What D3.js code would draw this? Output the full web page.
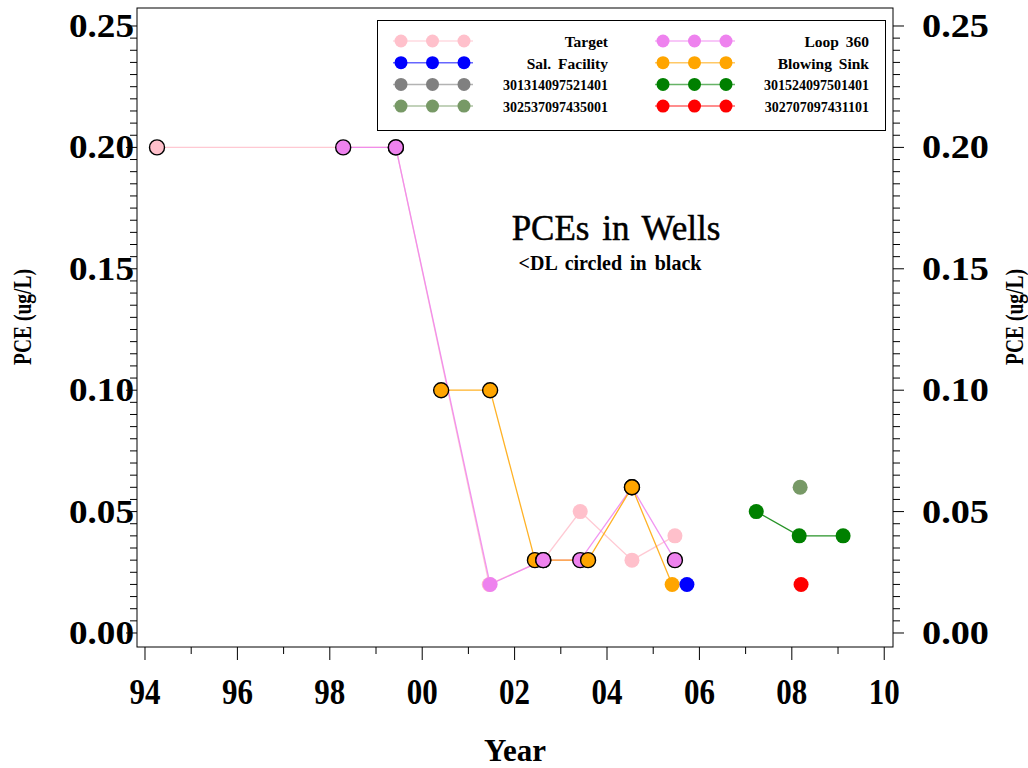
<!DOCTYPE html>
<html>
<head>
<meta charset="utf-8">
<script src="https://cdn.jsdelivr.net/npm/d3@7"></script>
<style>
  html, body { margin: 0; padding: 0; background: #fff; }
  svg { display: block; }
  text { font-family: "Liberation Serif", "Times New Roman", serif; fill: #000; }
</style>
</head>
<body>
<svg id="chart" width="1028" height="768"></svg>
<script>
// ---------- data ----------
const seriesNames = ["Target", "Sal. Facility", "301314097521401", "302537097435001",
                     "Loop 360", "Blowing Sink", "301524097501401", "302707097431101"];
const seriesColors = ["#ffc0cb", "#0000ff", "#808080", "#779966",
                      "#ee82ee", "#ffa500", "#008000", "#ff0000"];

const targetYears   = [1994.26, 1999.43, 2001.45, 2002.62, 2003.42, 2004.54, 2005.47];
const targetPCE     = [0.20, 0.20, 0.02, 0.03, 0.05, 0.03, 0.04];
const targetBelowDL = [1, 1, 0, 1, 0, 0, 0];

const salYears   = [2005.73];
const salPCE     = [0.02];
const salBelowDL = [0];

const w301314Years   = [];
const w301314PCE     = [];
const w301314BelowDL = [];

const w302537Years   = [2008.18];
const w302537PCE     = [0.06];
const w302537BelowDL = [0];

const loopYears   = [1998.29, 1999.43, 2001.47, 2002.62, 2003.42, 2004.54, 2005.47];
const loopPCE     = [0.20, 0.20, 0.02, 0.03, 0.03, 0.06, 0.03];
const loopBelowDL = [1, 1, 0, 1, 1, 1, 1];

const sinkYears   = [2000.41, 2001.47, 2002.44, 2003.59, 2004.54, 2005.41];
const sinkPCE     = [0.10, 0.10, 0.03, 0.03, 0.06, 0.02];
const sinkBelowDL = [1, 1, 1, 1, 1, 0];

const w301524Years   = [2007.23, 2008.16, 2009.11];
const w301524PCE     = [0.05, 0.04, 0.04];
const w301524BelowDL = [0, 0, 0];

const w302707Years   = [2008.20];
const w302707PCE     = [0.02];
const w302707BelowDL = [0];

const xTickValues = [1994, 1996, 1998, 2000, 2002, 2004, 2006, 2008, 2010];
const xTickLabels = ["94", "96", "98", "00", "02", "04", "06", "08", "10"];
const yTickValues = [0, 0.05, 0.10, 0.15, 0.20, 0.25];
const yTickLabels = ["0.00", "0.05", "0.10", "0.15", "0.20", "0.25"];

const titleText = "PCEs in Wells";
const subtitleText = "<DL circled in black";
const xTitle = "Year";
const yTitle = "PCE (ug/L)";

// ---------- build ----------
const seriesData = [
  [targetYears, targetPCE, targetBelowDL],
  [salYears, salPCE, salBelowDL],
  [w301314Years, w301314PCE, w301314BelowDL],
  [w302537Years, w302537PCE, w302537BelowDL],
  [loopYears, loopPCE, loopBelowDL],
  [sinkYears, sinkPCE, sinkBelowDL],
  [w301524Years, w301524PCE, w301524BelowDL],
  [w302707Years, w302707PCE, w302707BelowDL]
].map((s, i) => ({
  name: seriesNames[i], color: seriesColors[i], idx: i,
  pts: s[0].map((yr, j) => ({ x: yr, y: s[1][j], dl: s[2][j], idx: i, color: seriesColors[i] }))
}));

const svg = d3.select("#chart");
const L = 137, R = 893, T = 8, B = 647;

const x = d3.scaleLinear().domain([1993.827, 2010.19]).range([L, R]);
const y = d3.scaleLinear().domain([-0.00577, 0.25741]).range([B, T]);

svg.append("rect").attr("width", 1028).attr("height", 768).attr("fill", "#fff");

// frame
svg.append("rect").attr("x", L).attr("y", T).attr("width", R - L).attr("height", B - T)
  .attr("fill", "none").attr("stroke", "#000").attr("stroke-width", 1);

// x axis ticks
const xMinor = d3.range(1994, 2011, 1);
const xAxis = svg.append("g").attr("transform", `translate(0,${B})`);
xAxis.selectAll("line").data(xMinor).join("line")
  .attr("x1", d => x(d)).attr("x2", d => x(d))
  .attr("y1", 0).attr("y2", d => d % 2 === 0 ? 13 : 7)
  .attr("stroke", "#000").attr("stroke-width", 1);
xAxis.selectAll("text").data(xTickValues).join("text")
  .attr("x", d => x(d)).attr("y", 57)
  .attr("text-anchor", "middle")
  .attr("textLength", 31).attr("lengthAdjust", "spacingAndGlyphs")
  .style("font-size", "35px").style("font-weight", "bold")
  .text((d, i) => xTickLabels[i]);

// y ticks (both sides)
const yMinor = d3.range(0, 51).map(i => i * 0.005);
const isMajor = v => Math.abs(Math.round(v / 0.05) * 0.05 - v) < 1e-9;
const yl = svg.append("g");
yl.selectAll("line").data(yMinor).join("line")
  .attr("x1", L).attr("x2", d => L - (isMajor(d) ? 11 : 7))
  .attr("y1", d => y(d)).attr("y2", d => y(d))
  .attr("stroke", "#000").attr("stroke-width", 1);
yl.selectAll("text").data(yTickValues).join("text")
  .attr("x", 69).attr("y", d => y(d) + 11)
  .attr("text-anchor", "start")
  .attr("textLength", 65).attr("lengthAdjust", "spacingAndGlyphs")
  .style("font-size", "33px").style("font-weight", "bold")
  .text((d, i) => yTickLabels[i]);

const yr = svg.append("g");
yr.selectAll("line").data(yMinor).join("line")
  .attr("x1", R).attr("x2", d => R + (isMajor(d) ? 11 : 7))
  .attr("y1", d => y(d)).attr("y2", d => y(d))
  .attr("stroke", "#000").attr("stroke-width", 1);
yr.selectAll("text").data(yTickValues).join("text")
  .attr("x", R + 29).attr("y", d => y(d) + 11)
  .attr("text-anchor", "start")
  .attr("textLength", 67).attr("lengthAdjust", "spacingAndGlyphs")
  .style("font-size", "33px").style("font-weight", "bold")
  .text((d, i) => yTickLabels[i]);

// axis titles
svg.append("text").attr("transform", "translate(31,317) rotate(-90)")
  .attr("text-anchor", "middle")
  .attr("textLength", 96).attr("lengthAdjust", "spacingAndGlyphs")
  .style("font-size", "26px").style("font-weight", "bold")
  .text(yTitle);
svg.append("text").attr("transform", "translate(1023,317) rotate(-90)")
  .attr("text-anchor", "middle")
  .attr("textLength", 96).attr("lengthAdjust", "spacingAndGlyphs")
  .style("font-size", "26px").style("font-weight", "bold")
  .text(yTitle);
svg.append("text").attr("x", 515).attr("y", 761)
  .attr("text-anchor", "middle").style("font-size", "31px").style("font-weight", "bold")
  .text(xTitle);

// title
svg.append("text").attr("x", 616).attr("y", 240)
  .attr("text-anchor", "middle").style("font-size", "35px").style("word-spacing", "4px")
  .style("stroke", "#000").style("stroke-width", "0.5px")
  .text(titleText);
svg.append("text").attr("x", 610).attr("y", 270)
  .attr("text-anchor", "middle").style("font-size", "20px").style("font-weight", "bold")
  .style("word-spacing", "3px")
  .text(subtitleText);

// lines
const line = d3.line().x(d => x(d.x)).y(d => y(d.y));
svg.append("g").selectAll("path").data(seriesData.filter(s => s.pts.length > 1)).join("path")
  .attr("d", s => line(s.pts))
  .attr("fill", "none").attr("stroke", s => s.color)
  .attr("stroke-width", 1.3).attr("stroke-opacity", 0.85);

// markers, drawn in date order
const allPts = seriesData.flatMap(s => s.pts)
  .sort((a, b) => (a.x - b.x) || (a.idx - b.idx));
svg.append("g").selectAll("circle").data(allPts).join("circle")
  .attr("cx", d => x(d.x)).attr("cy", d => y(d.y)).attr("r", 7.5)
  .attr("fill", d => d.color)
  .attr("stroke", d => d.dl ? "#000" : "none")
  .attr("stroke-width", 1.4);

// legend
const lg = svg.append("g");
lg.append("rect").attr("x", 377.5).attr("y", 20.5).attr("width", 508).attr("height", 110)
  .attr("fill", "#fff").attr("stroke", "#000").attr("stroke-width", 1);
const legendItems = seriesData.map((s, i) => ({
  s, col: i < 4 ? 0 : 1, row: i % 4
}));
const colX = [401, 663];
const colTextX = [608, 869];
const rowY = r => 41 + r * 21.7;
const li = lg.selectAll("g.item").data(legendItems).join("g").attr("class", "item");
li.append("line")
  .attr("x1", d => colX[d.col] - 8).attr("x2", d => colX[d.col] + 72)
  .attr("y1", d => rowY(d.row)).attr("y2", d => rowY(d.row))
  .attr("stroke", d => d.s.color).attr("stroke-width", 1.5).attr("stroke-opacity", 0.6);
li.selectAll("circle").data(d => [0, 1, 2].map(k => ({ d, k }))).join("circle")
  .attr("cx", o => colX[o.d.col] + o.k * 31.5).attr("cy", o => rowY(o.d.row))
  .attr("r", 6.5).attr("fill", o => o.d.s.color);
li.append("text")
  .attr("x", d => colTextX[d.col]).attr("y", d => rowY(d.row) + 6)
  .attr("text-anchor", "end")
  .style("font-size", d => /^\d+$/.test(d.s.name) ? "14px" : "15.5px")
  .style("font-weight", "bold")
  .style("word-spacing", "3px")
  .text(d => d.s.name);
</script>
</body>
</html>
